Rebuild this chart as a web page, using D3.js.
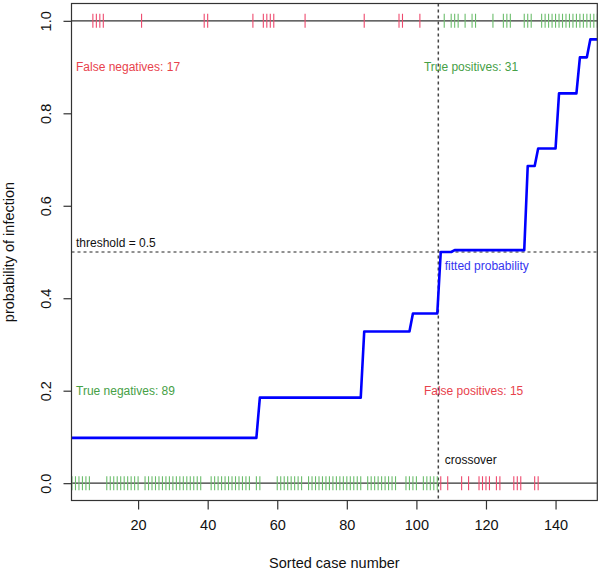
<!DOCTYPE html>
<html>
<head>
<meta charset="utf-8">
<script src="https://cdn.jsdelivr.net/npm/d3@7/dist/d3.min.js"></script>
<style>
  html, body { margin: 0; padding: 0; background: #ffffff; }
  svg { display: block; font-family: "Liberation Sans", Arial, sans-serif; }
</style>
</head>
<body>
<svg id="chart" width="600" height="573"></svg>
<script>
// ---------------- data ----------------
// fitted probability for each sorted case (cases 1..152)
const fittedProb = [
  0.098,0.098,0.098,0.098,0.098,0.098,0.098,0.098,0.098,0.098,
  0.098,0.098,0.098,0.098,0.098,0.098,0.098,0.098,0.098,0.098,
  0.098,0.098,0.098,0.098,0.098,0.098,0.098,0.098,0.098,0.098,
  0.098,0.098,0.098,0.098,0.098,0.098,0.098,0.098,0.098,0.098,
  0.098,0.098,0.098,0.098,0.098,0.098,0.098,0.098,0.098,0.098,
  0.098,0.098,0.098,0.098,
  0.185,0.185,0.185,0.185,0.185,0.185,0.185,0.185,0.185,0.185,
  0.185,0.185,0.185,0.185,0.185,0.185,0.185,0.185,0.185,0.185,
  0.185,0.185,0.185,0.185,0.185,0.185,0.185,0.185,0.185,0.185,
  0.328,0.328,0.328,0.328,0.328,0.328,0.328,0.328,0.328,0.328,
  0.328,0.328,0.328,0.328,
  0.367,0.367,0.367,0.367,0.367,0.367,0.367,0.367,
  0.500,0.500,0.500,0.500,
  0.504,0.504,0.504,0.504,0.504,0.504,0.504,0.504,0.504,0.504,
  0.504,0.504,0.504,0.504,0.504,0.504,0.504,0.504,0.504,0.504,
  0.504,
  0.686,0.686,0.686,
  0.724,0.724,0.724,0.724,0.724,0.724,
  0.843,0.843,0.843,0.843,0.843,0.843,
  0.921,0.921,0.921,
  0.960,0.960,0.960
];

// rug of actual outcomes (case numbers)
const falseNegCases = [7,8,9,10,21,39,40,53,56,57,58,59,68,85,95,96,101];
const truePosCases  = [108,110,111,112,114,116,117,122,125,126,127,131,132,133,
                       136,137,138,139,140,141,142,143,144,145,146,147,148,149,150,151,152];
const trueNegCases  = [1,2,3,4,5,6,11,12,13,14,15,16,17,18,19,20,
                       22,23,24,25,26,27,28,29,30,31,32,33,34,35,36,37,38,
                       41,42,43,44,45,46,47,48,49,50,51,52,54,55,
                       60,61,62,63,64,65,66,67,
                       69,70,71,72,73,74,75,76,77,78,79,80,81,82,83,84,
                       86,87,88,89,90,91,92,93,94,97,98,99,100,102,103,104,105,106];
const falsePosCases = [107,109,113,115,118,119,120,121,123,124,128,129,130,134,135];

const xTicks = [20,40,60,80,100,120,140];
const yTicks = [0.0,0.2,0.4,0.6,0.8,1.0];
const yTickLabels = ["0.0","0.2","0.4","0.6","0.8","1.0"];
const threshold = 0.5;
const crossover = 106.3;

const annotations = [
  {text: "False negatives: 17", x: 1,   y: 0.9,  kind: "red"},
  {text: "True positives: 31",  x: 101, y: 0.9,  kind: "green"},
  {text: "True negatives: 89",  x: 1,   y: 0.2,  kind: "green"},
  {text: "False positives: 15", x: 101, y: 0.2,  kind: "red"},
  {text: "threshold = 0.5",     x: 1,   y: 0.52, kind: "black"},
  {text: "fitted probability",  x: 107, y: 0.47, kind: "blue"},
  {text: "crossover",           x: 107, y: 0.05, kind: "black"}
];

// ---------------- layout ----------------
const L = 71.5, R = 597.3, T = 3.5, B = 500.5;
const svg = d3.select("#chart");
svg.append("rect").attr("width", 600).attr("height", 573).attr("fill", "#fff");

const x = d3.scaleLinear().domain([1, 152]).range([72, 597.3]);
const y = d3.scaleLinear().domain([-0.0375, 1.0375]).range([B, T]);

const axisColor = "#333";
const tickRed = "#ee4a6e", tickGreen = "#6cbd6c";
const textColors = {red: "#e8424c", green: "#46a046", black: "#111", blue: "#3535f0"};

// clip
svg.append("clipPath").attr("id", "plotclip")
  .append("rect").attr("x", L).attr("y", T).attr("width", R - L).attr("height", B - T);
const plot = svg.append("g").attr("clip-path", "url(#plotclip)");

// reference lines y=0, y=1
plot.selectAll("line.ref").data([0, 1]).enter().append("line")
  .attr("x1", L).attr("x2", R)
  .attr("y1", d => y(d)).attr("y2", d => y(d))
  .attr("stroke", axisColor).attr("stroke-width", 1.2);

// threshold line
plot.append("line")
  .attr("x1", L).attr("x2", R).attr("y1", y(threshold)).attr("y2", y(threshold))
  .attr("stroke", "#222").attr("stroke-width", 1).attr("stroke-dasharray", "3,3");

// crossover vertical
plot.append("line")
  .attr("x1", x(crossover)).attr("x2", x(crossover)).attr("y1", T).attr("y2", B)
  .attr("stroke", "#444").attr("stroke-width", 1.5).attr("stroke-dasharray", "3,3");

// rugs
function rug(cases, level, color) {
  plot.append("g").selectAll("line").data(cases).enter().append("line")
    .attr("x1", d => x(d)).attr("x2", d => x(d))
    .attr("y1", y(level) - 7).attr("y2", y(level) + 7)
    .attr("stroke", color).attr("stroke-width", 1.1);
}
rug(falseNegCases, 1, tickRed);
rug(truePosCases, 1, tickGreen);
rug(trueNegCases, 0, tickGreen);
rug(falsePosCases, 0, tickRed);

// fitted line
const line = d3.line().x((d, i) => x(i + 1)).y(d => y(d));
plot.append("path").datum(fittedProb)
  .attr("d", line).attr("fill", "none")
  .attr("stroke", "#0000ff").attr("stroke-width", 2.6).attr("stroke-linejoin", "round");

// annotations
svg.append("g").selectAll("text").data(annotations).enter().append("text")
  .attr("x", d => x(d.x) + 4)
  .attr("y", d => y(d.y))
  .attr("dy", "0.35em")
  .attr("font-size", 12)
  .attr("fill", d => textColors[d.kind])
  .text(d => d.text);

// box
svg.append("rect").attr("x", L).attr("y", T).attr("width", R - L).attr("height", B - T)
  .attr("fill", "none").attr("stroke", axisColor).attr("stroke-width", 1.2);

// x axis
const xAxis = d3.axisBottom(x).tickValues(xTicks).tickSize(9).tickSizeOuter(0).tickPadding(10);
const gx = svg.append("g").attr("transform", `translate(0,${B})`).call(xAxis);
gx.select(".domain").remove();
gx.selectAll(".tick line").attr("stroke", axisColor).attr("stroke-width", 1.2);
gx.selectAll(".tick text").attr("font-size", 14.5).attr("fill", "#111")
  .attr("font-family", "Liberation Sans, Arial, sans-serif");

// y axis
const yAxis = d3.axisLeft(y).tickValues(yTicks).tickSize(8).tickSizeOuter(0)
  .tickFormat((d, i) => yTickLabels[i]);
const gy = svg.append("g").attr("transform", `translate(${L},0)`).call(yAxis);
gy.select(".domain").remove();
gy.selectAll(".tick line").attr("stroke", axisColor).attr("stroke-width", 1.2);
gy.selectAll(".tick text")
  .attr("font-size", 14.5).attr("fill", "#111")
  .attr("font-family", "Liberation Sans, Arial, sans-serif")
  .attr("x", null).attr("dy", null)
  .attr("text-anchor", "middle")
  .attr("transform", "translate(-21,0) rotate(-90)");

// axis titles
svg.append("text").attr("x", (L + R) / 2).attr("y", 568)
  .attr("text-anchor", "middle").attr("font-size", 14.5).attr("fill", "#111")
  .text("Sorted case number");
svg.append("text").attr("transform", `translate(14,${(T + B) / 2}) rotate(-90)`)
  .attr("text-anchor", "middle").attr("font-size", 14.5).attr("fill", "#111")
  .text("probability of infection");
</script>
</body>
</html>
